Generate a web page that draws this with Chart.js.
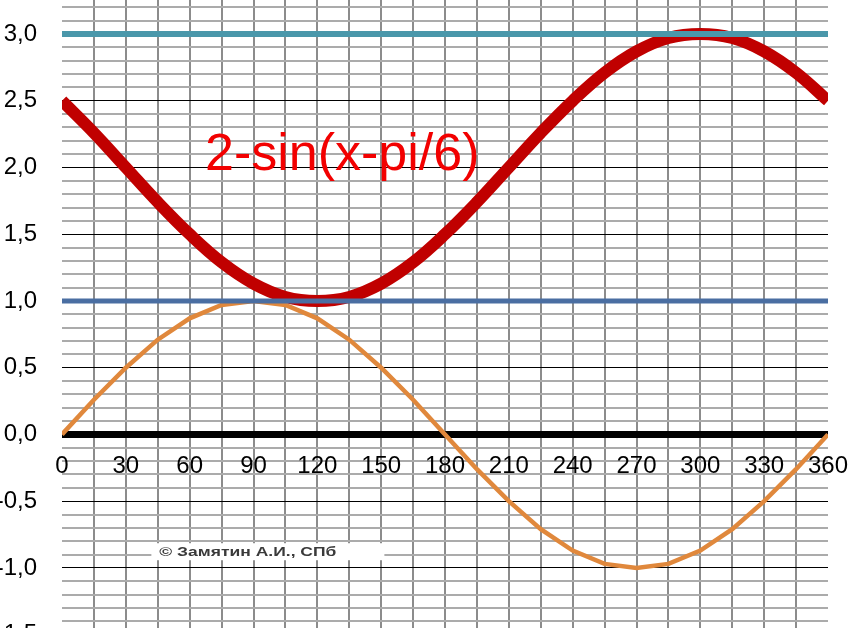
<!DOCTYPE html>
<html>
<head>
<meta charset="utf-8">
<script src="https://cdn.jsdelivr.net/npm/chart.js@4/dist/chart.umd.min.js"></script>
<style>
  html, body { margin: 0; padding: 0; background: #fff; overflow: hidden; }
  #wrap { width: 861px; height: 628px; overflow: hidden; }
</style>
</head>
<body>
<div id="wrap"><canvas id="chart" width="861" height="648"></canvas></div>
<script>
// x values in degrees, one point every 15
const degrees = [0, 15, 30, 45, 60, 75, 90, 105, 120, 135, 150, 165, 180,
  195, 210, 225, 240, 255, 270, 285, 300, 315, 330, 345, 360];

// sin(x)
const sinValues = [0, 0.26, 0.5, 0.71, 0.87, 0.97, 1.0, 0.97, 0.87, 0.71, 0.5, 0.26, 0,
  -0.26, -0.5, -0.71, -0.87, -0.97, -1.0, -0.97, -0.87, -0.71, -0.5, -0.26, 0];

// 2-sin(x-pi/6)
const shiftedValues = [2.5, 2.26, 2.0, 1.74, 1.5, 1.29, 1.13, 1.03, 1.0, 1.03, 1.13, 1.29, 1.5,
  1.74, 2.0, 2.26, 2.5, 2.71, 2.87, 2.97, 3.0, 2.97, 2.87, 2.71, 2.5];

// horizontal reference lines
const flatX = [0, 360];
const topLine = [3.0, 3.0];
const oneLine = [1.0, 1.0];
const zeroLine = [0.0, 0.0];

const curveLabel = '2-sin(x-pi/6)';
const copyright = '\u00A9 Замятин А.И., СПб';

function points(xs, ys) {
  return xs.map((x, i) => ({ x: x, y: ys[i] }));
}

function isHalf(v) {
  return Math.abs(v * 2 - Math.round(v * 2)) < 1e-6;
}

// text drawn on top of the plot
const notes = {
  id: 'notes',
  afterDatasetsDraw(chart) {
    const ctx = chart.ctx;
    const xs = chart.scales.x;
    const ys = chart.scales.y;
    ctx.save();
    // formula label
    ctx.font = '52px "Liberation Sans", Arial, sans-serif';
    ctx.fillStyle = '#f20000';
    ctx.textBaseline = 'alphabetic';
    ctx.textAlign = 'left';
    ctx.fillText(curveLabel, xs.getPixelForValue(67.2), ys.getPixelForValue(1.98));
    // copyright box
    const bx = xs.getPixelForValue(42);
    const by = ys.getPixelForValue(-0.815);
    ctx.fillStyle = '#ffffff';
    ctx.fillRect(bx, by, 233, 17);
    ctx.font = 'bold 12px "Liberation Sans", Arial, sans-serif';
    ctx.fillStyle = '#3a3a3a';
    ctx.textBaseline = 'middle';
    // the original text is stretched wide
    const w = ctx.measureText(copyright).width;
    ctx.translate(bx + 8, by + 9);
    ctx.scale(177 / w, 1);
    ctx.fillText(copyright, 0, 0);
    ctx.restore();
  }
};

new Chart(document.getElementById('chart'), {
  type: 'line',
  data: {
    datasets: [
      { data: points(flatX, topLine), borderColor: '#4a97aa', borderWidth: 6 },
      { data: points(flatX, oneLine), borderColor: '#4a6ea2', borderWidth: 5 },
      { data: points(degrees, sinValues), borderColor: '#e0883c', borderWidth: 4.5, tension: 0 },
      { data: points(flatX, zeroLine), borderColor: '#000000', borderWidth: 7 },
      { data: points(degrees, shiftedValues), borderColor: '#c00000', borderWidth: 12, tension: 0.4 }
    ]
  },
  options: {
    responsive: false,
    animation: false,
    layout: { padding: { top: 0, right: 33, bottom: 0, left: 0 } },
    elements: { point: { radius: 0 }, line: { fill: false } },
    plugins: { legend: { display: false }, tooltip: { enabled: false } },
    scales: {
      x: {
        type: 'linear',
        position: { y: 0 },
        min: 0,
        max: 360,
        border: { display: false },
        grid: {
          drawTicks: false,
          lineWidth: 2,
          color: (c) => (c.tick && (c.tick.value === 0 || c.tick.value === 360)) ? 'rgba(0,0,0,0)' : '#8c8c8c'
        },
        ticks: {
          stepSize: 15,
          autoSkip: false,
          maxRotation: 0,
          padding: 18,
          color: '#000',
          font: { family: '"Liberation Sans", Arial, sans-serif', size: 24 },
          callback: (v) => (v % 30 === 0 ? String(v) : '')
        },
        afterFit: (s) => { s.height = 1; s.paddingLeft = 0; s.paddingRight = 0; }
      },
      y: {
        type: 'linear',
        min: -1.6,
        max: 3.255,
        border: { display: false },
        grid: {
          drawTicks: false,
          lineWidth: (c) => (c.tick && isHalf(c.tick.value)) ? 1 : 2,
          color: (c) => (c.tick && isHalf(c.tick.value)) ? '#000000' : '#ababab'
        },
        ticks: {
          stepSize: 0.1,
          includeBounds: false,
          autoSkip: false,
          padding: 25,
          color: '#000',
          font: { family: '"Liberation Sans", Arial, sans-serif', size: 24 },
          callback: (v) => isHalf(v) ? v.toFixed(1).replace('.', ',') : ''
        },
        afterFit: (s) => { s.width = 62; s.paddingTop = 0; s.paddingBottom = 0; }
      }
    }
  },
  plugins: [notes]
});
</script>
</body>
</html>
